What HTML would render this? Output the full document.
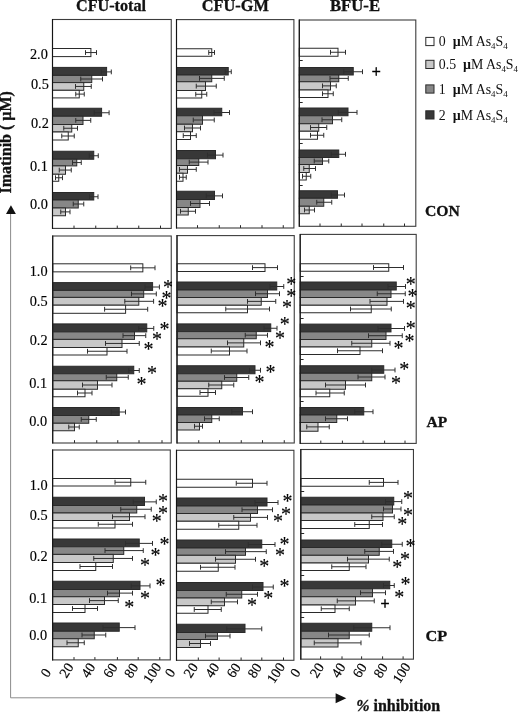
<!DOCTYPE html>
<html lang="en"><head><meta charset="utf-8"><title>Figure</title>
<style>
html,body{margin:0;padding:0;background:#fff;}
body{width:520px;height:712px;overflow:hidden;}
svg{display:block;font-family:"Liberation Serif","Times New Roman",serif;fill:#111;}
.b{font-weight:bold;font-size:16px;stroke:#111;stroke-width:0.3;}
.y{font-size:14.3px;fill:#000;stroke:#000;stroke-width:0.15;}
.x{font-size:14px;fill:#000;stroke:#000;stroke-width:0.2;}
.lg{font-size:13.85px;}
.st{font-size:20px;fill:#000;stroke:#000;stroke-width:0.12;}
.pl{font-size:16px;fill:#000;stroke:#000;stroke-width:0.5;}
.bar{stroke:#2a2a2a;stroke-width:1;}
.e{stroke:#2e2e2e;stroke-width:1;fill:none;}
.p{stroke:#3c3c3c;stroke-width:1.1;fill:none;}
.t{stroke:#262626;stroke-width:1;fill:none;}
.pl2{stroke:#141414;stroke-width:1.1;fill:none;}
.g{stroke:#8c8c8c;stroke-width:1;fill:none;}
</style></head><body>
<svg width="520" height="712" viewBox="0 0 520 712">
<rect x="0" y="0" width="520" height="712" fill="#fff"/>
<path class="g" d="M10.6 213 V697.8 H338"/>
<path d="M6 214 L15.9 214 L10.95 205.3 Z" fill="#111"/>
<path d="M335.6 693.3 L335.6 703.3 L346.3 698.3 Z" fill="#111"/>
<g id="r1c1">
<rect class="bar" x="52.5" y="48.5" width="38.4" height="8.1" fill="#ffffff"/>
<rect class="bar" x="52.5" y="67.4" width="54.1" height="8" fill="#383838"/>
<rect class="bar" x="52.5" y="75.4" width="39.25" height="7.2" fill="#878787"/>
<rect class="bar" x="52.5" y="82.6" width="31.25" height="7.7" fill="#c8c8c8"/>
<rect class="bar" x="52.5" y="90.3" width="26.75" height="7.6" fill="#ffffff"/>
<rect class="bar" x="52.5" y="108.25" width="49.1" height="8" fill="#383838"/>
<rect class="bar" x="52.5" y="116.25" width="30.5" height="8.25" fill="#878787"/>
<rect class="bar" x="52.5" y="124.5" width="19.25" height="7.5" fill="#c8c8c8"/>
<rect class="bar" x="52.5" y="132" width="15.75" height="8" fill="#ffffff"/>
<rect class="bar" x="52.5" y="151.25" width="41.25" height="8" fill="#383838"/>
<rect class="bar" x="52.5" y="159.25" width="24.25" height="6.65" fill="#878787"/>
<rect class="bar" x="52.5" y="165.9" width="13" height="8.35" fill="#c8c8c8"/>
<rect class="bar" x="52.5" y="174.25" width="6.25" height="7" fill="#ffffff"/>
<rect class="bar" x="52.5" y="192.5" width="41.25" height="7.5" fill="#383838"/>
<rect class="bar" x="52.5" y="200" width="25.75" height="8" fill="#878787"/>
<rect class="bar" x="52.5" y="208" width="13" height="7.75" fill="#c8c8c8"/>
<path class="e" d="M85.5 52.55 H96.5 M85.5 50.15 V54.95 M96.5 50.15 V54.95 M101.25 71.9 H111.3 M101.25 69.5 V74.3 M111.3 69.5 V74.3 M80.75 79 H102.5 M80.75 76.6 V81.4 M102.5 76.6 V81.4 M75.5 86.45 H91.25 M75.5 84.05 V88.85 M91.25 84.05 V88.85 M75.75 94.1 H84.25 M75.75 91.7 V96.5 M84.25 91.7 V96.5 M94.2 112.75 H109.1 M94.2 110.35 V115.15 M109.1 110.35 V115.15 M75.75 120.38 H90.75 M75.75 117.97 V122.78 M90.75 117.97 V122.78 M63.75 128.25 H77.5 M63.75 125.85 V130.65 M77.5 125.85 V130.65 M61.75 136 H74.25 M61.75 133.6 V138.4 M74.25 133.6 V138.4 M89.25 155.75 H98.25 M89.25 153.35 V158.15 M98.25 153.35 V158.15 M72.5 162.57 H81.25 M72.5 160.17 V164.97 M81.25 160.17 V164.97 M59.25 170.07 H71.25 M59.25 167.67 V172.47 M71.25 167.67 V172.47 M55.5 177.75 H62.5 M55.5 175.35 V180.15 M62.5 175.35 V180.15 M89.5 196.75 H98 M89.5 194.35 V199.15 M98 194.35 V199.15 M73.25 204 H83.75 M73.25 201.6 V206.4 M83.75 201.6 V206.4 M60.75 211.88 H70 M60.75 209.47 V214.28 M70 209.47 V214.28"/>
<path class="t" d="M74 228.4 V225.6 M95.75 228.4 V225.6 M117.25 228.4 V225.6 M138.75 228.4 V225.6 M160.5 228.4 V225.6"/>
<rect class="p" x="52.5" y="19.5" width="118.75" height="208.9"/>
<path class="pl2" d="M52.5 19 V228.9"/>
</g>
<g id="r1c2">
<rect class="bar" x="176.5" y="48.75" width="35.25" height="7.5" fill="#ffffff"/>
<rect class="bar" x="176.5" y="67.5" width="51.75" height="7.5" fill="#383838"/>
<rect class="bar" x="176.5" y="75" width="35.25" height="6.75" fill="#878787"/>
<rect class="bar" x="176.5" y="81.75" width="29" height="8.75" fill="#c8c8c8"/>
<rect class="bar" x="176.5" y="90.5" width="25.25" height="7.5" fill="#ffffff"/>
<rect class="bar" x="176.5" y="108.25" width="45.25" height="7.5" fill="#383838"/>
<rect class="bar" x="176.5" y="115.75" width="26" height="8.5" fill="#878787"/>
<rect class="bar" x="176.5" y="124.25" width="16" height="7.5" fill="#c8c8c8"/>
<rect class="bar" x="176.5" y="131.75" width="14" height="7.75" fill="#ffffff"/>
<rect class="bar" x="176.5" y="150.5" width="39" height="8.25" fill="#383838"/>
<rect class="bar" x="176.5" y="158.75" width="22.25" height="6.75" fill="#878787"/>
<rect class="bar" x="176.5" y="165.5" width="11" height="7.75" fill="#c8c8c8"/>
<rect class="bar" x="176.5" y="173.25" width="6.5" height="8" fill="#ffffff"/>
<rect class="bar" x="176.5" y="191.25" width="38" height="8.25" fill="#383838"/>
<rect class="bar" x="176.5" y="199.5" width="23.5" height="8" fill="#878787"/>
<rect class="bar" x="176.5" y="207.5" width="11.75" height="7.5" fill="#c8c8c8"/>
<path class="e" d="M208.75 52.5 H214.5 M208.75 50.1 V54.9 M214.5 50.1 V54.9 M225.25 71.75 H231.25 M225.25 69.35 V74.15 M231.25 69.35 V74.15 M199.5 78.38 H224.25 M199.5 75.97 V80.78 M224.25 75.97 V80.78 M196.25 86.12 H216.25 M196.25 83.72 V88.53 M216.25 83.72 V88.53 M195.75 94.25 H206.75 M195.75 91.85 V96.65 M206.75 91.85 V96.65 M214 112.5 H229.5 M214 110.1 V114.9 M229.5 110.1 V114.9 M193.25 120 H214.25 M193.25 117.6 V122.4 M214.25 117.6 V122.4 M184.5 128 H200.5 M184.5 125.6 V130.4 M200.5 125.6 V130.4 M183.25 135.62 H196.25 M183.25 133.22 V138.03 M196.25 133.22 V138.03 M207.5 155.12 H223 M207.5 152.72 V157.53 M223 152.72 V157.53 M189.25 162.12 H208 M189.25 159.72 V164.53 M208 159.72 V164.53 M179.5 169.38 H196.25 M179.5 166.97 V171.78 M196.25 166.97 V171.78 M179.5 177.25 H186.25 M179.5 174.85 V179.65 M186.25 174.85 V179.65 M206.25 195.88 H222.5 M206.25 193.47 V198.28 M222.5 193.47 V198.28 M190.5 203.5 H209.5 M190.5 201.1 V205.9 M209.5 201.1 V205.9 M180.5 211.25 H195.5 M180.5 208.85 V213.65 M195.5 208.85 V213.65"/>
<path class="t" d="M197.5 228 V225.2 M219.25 228 V225.2 M240.5 228 V225.2 M262 228 V225.2 M283.25 228 V225.2"/>
<rect class="p" x="176.5" y="19.6" width="117.4" height="208.4"/>
<path class="pl2" d="M176.5 19.1 V228.5"/>
</g>
<g id="r1c3">
<rect class="bar" x="299.3" y="48.25" width="38.7" height="8" fill="#ffffff"/>
<rect class="bar" x="299.3" y="67.5" width="53.95" height="7.5" fill="#383838"/>
<rect class="bar" x="299.3" y="75" width="39.45" height="6.75" fill="#878787"/>
<rect class="bar" x="299.3" y="81.75" width="31.2" height="8.25" fill="#c8c8c8"/>
<rect class="bar" x="299.3" y="90" width="28.7" height="7.5" fill="#ffffff"/>
<rect class="bar" x="299.3" y="108" width="48.7" height="7.75" fill="#383838"/>
<rect class="bar" x="299.3" y="115.75" width="33.2" height="8" fill="#878787"/>
<rect class="bar" x="299.3" y="123.75" width="19.45" height="7.5" fill="#c8c8c8"/>
<rect class="bar" x="299.3" y="131.25" width="18.2" height="8" fill="#ffffff"/>
<rect class="bar" x="299.3" y="150" width="39.45" height="7.5" fill="#383838"/>
<rect class="bar" x="299.3" y="157.5" width="23.2" height="7" fill="#878787"/>
<rect class="bar" x="299.3" y="164.5" width="9.95" height="8" fill="#c8c8c8"/>
<rect class="bar" x="299.3" y="172.5" width="6.95" height="7.5" fill="#ffffff"/>
<rect class="bar" x="299.3" y="190.75" width="38.2" height="7.5" fill="#383838"/>
<rect class="bar" x="299.3" y="198.25" width="24.45" height="8" fill="#878787"/>
<rect class="bar" x="299.3" y="206.25" width="9.95" height="7.5" fill="#c8c8c8"/>
<path class="e" d="M330.5 52.25 H345.5 M330.5 49.85 V54.65 M345.5 49.85 V54.65 M343.75 71.75 H362.5 M343.75 69.35 V74.15 M362.5 69.35 V74.15 M330 78.38 H348.25 M330 75.97 V80.78 M348.25 75.97 V80.78 M322.5 85.88 H336.25 M322.5 83.47 V88.28 M336.25 83.47 V88.28 M322.5 93.75 H333.25 M322.5 91.35 V96.15 M333.25 91.35 V96.15 M338.25 112.38 H357 M338.25 109.97 V114.78 M357 109.97 V114.78 M322 119.75 H341.75 M322 117.35 V122.15 M341.75 117.35 V122.15 M310.5 127.5 H326.75 M310.5 125.1 V129.9 M326.75 125.1 V129.9 M310.5 135.25 H323.75 M310.5 132.85 V137.65 M323.75 132.85 V137.65 M331.25 154.25 H345.5 M331.25 151.85 V156.65 M345.5 151.85 V156.65 M314.25 161 H328.75 M314.25 158.6 V163.4 M328.75 158.6 V163.4 M303.75 168.5 H315.5 M303.75 166.1 V170.9 M315.5 166.1 V170.9 M302.5 176.25 H310.75 M302.5 173.85 V178.65 M310.75 173.85 V178.65 M331.25 195 H344.5 M331.25 192.6 V197.4 M344.5 192.6 V197.4 M316.75 202.25 H331.75 M316.75 199.85 V204.65 M331.75 199.85 V204.65 M304.5 210 H314.5 M304.5 207.6 V212.4 M314.5 207.6 V212.4"/>
<path class="t" d="M320 226.3 V223.5 M341.25 226.3 V223.5 M362 226.3 V223.5 M383.75 226.3 V223.5 M404.5 226.3 V223.5 M299.3 60.5 H302.7 M299.3 102.5 H302.7 M299.3 143.5 H302.7 M299.3 185.5 H302.7"/>
<rect class="p" x="299.3" y="20" width="116.5" height="206.3"/>
<path class="pl2" d="M299.3 19.5 V226.8"/>
<text class="pl" text-anchor="middle" x="376.25" y="76.7">+</text>
</g>
<g id="r2c1">
<rect class="bar" x="52.7" y="263.8" width="90.15" height="8.05" fill="#ffffff"/>
<rect class="bar" x="52.7" y="282.6" width="99.9" height="7.8" fill="#383838"/>
<rect class="bar" x="52.7" y="290.4" width="91" height="7" fill="#878787"/>
<rect class="bar" x="52.7" y="297.4" width="86.1" height="7.8" fill="#c8c8c8"/>
<rect class="bar" x="52.7" y="305.2" width="72.9" height="8.1" fill="#ffffff"/>
<rect class="bar" x="52.7" y="323.9" width="94.05" height="8" fill="#383838"/>
<rect class="bar" x="52.7" y="331.9" width="81.8" height="7.5" fill="#878787"/>
<rect class="bar" x="52.7" y="339.4" width="69.3" height="8.1" fill="#c8c8c8"/>
<rect class="bar" x="52.7" y="347.5" width="54.3" height="7.5" fill="#ffffff"/>
<rect class="bar" x="52.7" y="366.25" width="81.05" height="7.5" fill="#383838"/>
<rect class="bar" x="52.7" y="373.75" width="64.05" height="7" fill="#878787"/>
<rect class="bar" x="52.7" y="380.75" width="44.8" height="8.5" fill="#c8c8c8"/>
<rect class="bar" x="52.7" y="389.25" width="32.3" height="7.5" fill="#ffffff"/>
<rect class="bar" x="52.7" y="407.5" width="66.55" height="8" fill="#383838"/>
<rect class="bar" x="52.7" y="415.5" width="36.05" height="7.75" fill="#878787"/>
<rect class="bar" x="52.7" y="423.25" width="21.8" height="7.5" fill="#c8c8c8"/>
<path class="e" d="M130.7 267.83 H155 M130.7 265.43 V270.23 M155 265.43 V270.23 M145 287 H159.4 M145 284.6 V289.4 M159.4 284.6 V289.4 M131.5 293.9 H156.3 M131.5 291.5 V296.3 M156.3 291.5 V296.3 M124.8 301.3 H153.6 M124.8 298.9 V303.7 M153.6 298.9 V303.7 M104.6 309.25 H147.7 M104.6 306.85 V311.65 M147.7 306.85 V311.65 M138.75 328.4 H153.75 M138.75 326 V330.8 M153.75 326 V330.8 M123 335.65 H145.75 M123 333.25 V338.05 M145.75 333.25 V338.05 M105.5 343.45 H139.25 M105.5 341.05 V345.85 M139.25 341.05 V345.85 M87.5 351.25 H127 M87.5 348.85 V353.65 M127 348.85 V353.65 M128.75 370.5 H139.25 M128.75 368.1 V372.9 M139.25 368.1 V372.9 M106.25 377.25 H128.25 M106.25 374.85 V379.65 M128.25 374.85 V379.65 M82.5 385 H112 M82.5 382.6 V387.4 M112 382.6 V387.4 M77.5 393 H92 M77.5 390.6 V395.4 M92 390.6 V395.4 M111.25 412 H125.5 M111.25 409.6 V414.4 M125.5 409.6 V414.4 M81.25 419.38 H96.25 M81.25 416.98 V421.77 M96.25 416.98 V421.77 M68.75 427 H79.25 M68.75 424.6 V429.4 M79.25 424.6 V429.4"/>
<path class="t" d="M74.5 443 V440.2 M96.75 443 V440.2 M117.75 443 V440.2 M139 443 V440.2 M162 443 V440.2"/>
<rect class="p" x="52.7" y="236" width="118.55" height="207"/>
<path class="pl2" d="M52.7 235.5 V443.5"/>
<text class="st" text-anchor="middle" x="167.9" y="293.9">*</text>
<text class="st" text-anchor="middle" x="166.5" y="304.7">*</text>
<text class="st" text-anchor="middle" x="162.5" y="312.8">*</text>
<text class="st" text-anchor="middle" x="164.5" y="336.4">*</text>
<text class="st" text-anchor="middle" x="157" y="345.9">*</text>
<text class="st" text-anchor="middle" x="148.4" y="355.6">*</text>
<text class="st" text-anchor="middle" x="152.1" y="379.6">*</text>
<text class="st" text-anchor="middle" x="141.4" y="390.5">*</text>
</g>
<g id="r2c2">
<rect class="bar" x="177" y="263.75" width="88" height="7.75" fill="#ffffff"/>
<rect class="bar" x="177" y="282" width="99.75" height="8" fill="#383838"/>
<rect class="bar" x="177" y="290" width="90.5" height="7.5" fill="#878787"/>
<rect class="bar" x="177" y="297.5" width="84.25" height="7.75" fill="#c8c8c8"/>
<rect class="bar" x="177" y="305.25" width="70.5" height="7.5" fill="#ffffff"/>
<rect class="bar" x="177" y="323.9" width="93.75" height="7.7" fill="#383838"/>
<rect class="bar" x="177" y="331.6" width="79.25" height="7.15" fill="#878787"/>
<rect class="bar" x="177" y="338.75" width="66.75" height="8.25" fill="#c8c8c8"/>
<rect class="bar" x="177" y="347" width="52.5" height="8" fill="#ffffff"/>
<rect class="bar" x="177" y="365.75" width="78" height="8" fill="#383838"/>
<rect class="bar" x="177" y="373.75" width="59.75" height="7.5" fill="#878787"/>
<rect class="bar" x="177" y="381.25" width="44.75" height="7.5" fill="#c8c8c8"/>
<rect class="bar" x="177" y="388.75" width="31" height="7.5" fill="#ffffff"/>
<rect class="bar" x="177" y="407.5" width="65.5" height="7.5" fill="#383838"/>
<rect class="bar" x="177" y="415" width="34.75" height="7.5" fill="#878787"/>
<rect class="bar" x="177" y="422.5" width="22.5" height="7.5" fill="#c8c8c8"/>
<path class="e" d="M252.5 267.62 H277.5 M252.5 265.23 V270.02 M277.5 265.23 V270.02 M270 286.5 H283.75 M270 284.1 V288.9 M283.75 284.1 V288.9 M255.5 293.75 H279.5 M255.5 291.35 V296.15 M279.5 291.35 V296.15 M247.5 301.38 H275.75 M247.5 298.98 V303.77 M275.75 298.98 V303.77 M225.75 309 H269.5 M225.75 306.6 V311.4 M269.5 306.6 V311.4 M264 328.25 H277 M264 325.85 V330.65 M277 325.85 V330.65 M245.25 335.18 H267.5 M245.25 332.78 V337.57 M267.5 332.78 V337.57 M227.5 342.88 H260.5 M227.5 340.48 V345.27 M260.5 340.48 V345.27 M211.25 351 H247 M211.25 348.6 V353.4 M247 348.6 V353.4 M249.5 370.25 H260.5 M249.5 367.85 V372.65 M260.5 367.85 V372.65 M224.5 377.5 H248.75 M224.5 375.1 V379.9 M248.75 375.1 V379.9 M208.75 385 H233.75 M208.75 382.6 V387.4 M233.75 382.6 V387.4 M200 392.5 H215.5 M200 390.1 V394.9 M215.5 390.1 V394.9 M231.75 411.75 H252.5 M231.75 409.35 V414.15 M252.5 409.35 V414.15 M204.5 418.75 H219.25 M204.5 416.35 V421.15 M219.25 416.35 V421.15 M194.5 426.25 H202.5 M194.5 423.85 V428.65 M202.5 423.85 V428.65"/>
<path class="t" d="M198.75 443 V440.2 M219.5 443 V440.2 M241.25 443 V440.2 M262.5 443 V440.2 M284.25 443 V440.2"/>
<rect class="p" x="177" y="235.6" width="117.25" height="207.4"/>
<path class="pl2" d="M177 235.1 V443.5"/>
<text class="st" text-anchor="middle" x="291.25" y="290.55">*</text>
<text class="st" text-anchor="middle" x="291.25" y="303.05">*</text>
<text class="st" text-anchor="middle" x="287" y="314.3">*</text>
<text class="st" text-anchor="middle" x="284.75" y="331.05">*</text>
<text class="st" text-anchor="middle" x="280" y="344.55">*</text>
<text class="st" text-anchor="middle" x="269.5" y="354.05">*</text>
<text class="st" text-anchor="middle" x="270.5" y="378.55">*</text>
<text class="st" text-anchor="middle" x="259.5" y="389.3">*</text>
</g>
<g id="r2c3">
<rect class="bar" x="300.2" y="263.75" width="88.55" height="7.5" fill="#ffffff"/>
<rect class="bar" x="300.2" y="282" width="96.05" height="8" fill="#383838"/>
<rect class="bar" x="300.2" y="290" width="90.8" height="7.5" fill="#878787"/>
<rect class="bar" x="300.2" y="297.5" width="86.8" height="7.75" fill="#c8c8c8"/>
<rect class="bar" x="300.2" y="305.25" width="71.05" height="7.5" fill="#ffffff"/>
<rect class="bar" x="300.2" y="324.1" width="90.8" height="7.8" fill="#383838"/>
<rect class="bar" x="300.2" y="331.9" width="85.8" height="7.6" fill="#878787"/>
<rect class="bar" x="300.2" y="339.5" width="71.55" height="7.5" fill="#c8c8c8"/>
<rect class="bar" x="300.2" y="347" width="59.8" height="7.5" fill="#ffffff"/>
<rect class="bar" x="300.2" y="365.75" width="83.55" height="7.5" fill="#383838"/>
<rect class="bar" x="300.2" y="373.25" width="71.55" height="7.5" fill="#878787"/>
<rect class="bar" x="300.2" y="380.75" width="45.3" height="8.5" fill="#c8c8c8"/>
<rect class="bar" x="300.2" y="389.25" width="29.55" height="7.5" fill="#ffffff"/>
<rect class="bar" x="300.2" y="407.5" width="63.55" height="7.5" fill="#383838"/>
<rect class="bar" x="300.2" y="415" width="36.55" height="7.5" fill="#878787"/>
<rect class="bar" x="300.2" y="422.5" width="17.8" height="8.75" fill="#c8c8c8"/>
<path class="e" d="M373.5 267.5 H403.5 M373.5 265.1 V269.9 M403.5 265.1 V269.9 M388 286.5 H405.5 M388 284.1 V288.9 M405.5 284.1 V288.9 M377.25 293.75 H405.25 M377.25 291.35 V296.15 M405.25 291.35 V296.15 M370 301.38 H403.5 M370 298.98 V303.77 M403.5 298.98 V303.77 M350.5 309 H391.25 M350.5 306.6 V311.4 M391.25 306.6 V311.4 M378 328.5 H404.5 M378 326.1 V330.9 M404.5 326.1 V330.9 M368.5 335.7 H402.25 M368.5 333.3 V338.1 M402.25 333.3 V338.1 M351.75 343.25 H390 M351.75 340.85 V345.65 M390 340.85 V345.65 M337.5 350.75 H382.5 M337.5 348.35 V353.15 M382.5 348.35 V353.15 M371.75 370 H395 M371.75 367.6 V372.4 M395 367.6 V372.4 M358 377 H385 M358 374.6 V379.4 M385 374.6 V379.4 M325.5 385 H365.5 M325.5 382.6 V387.4 M365.5 382.6 V387.4 M316 393 H344.25 M316 390.6 V395.4 M344.25 390.6 V395.4 M354.75 411.75 H373 M354.75 409.35 V414.15 M373 409.35 V414.15 M325.5 418.75 H347.5 M325.5 416.35 V421.15 M347.5 416.35 V421.15 M306.75 426.88 H329.25 M306.75 424.48 V429.27 M329.25 424.48 V429.27"/>
<path class="t" d="M320.8 443.4 V440.6 M342.4 443.4 V440.6 M363.1 443.4 V440.6 M384.6 443.4 V440.6 M405 443.4 V440.6 M300.2 276.5 H303.6 M300.2 318.5 H303.6 M300.2 359.5 H303.6 M300.2 401.5 H303.6"/>
<rect class="p" x="300.2" y="234.4" width="116" height="209"/>
<path class="pl2" d="M300.2 233.9 V443.9"/>
<text class="st" text-anchor="middle" x="410.8" y="290.75">*</text>
<text class="st" text-anchor="middle" x="412.6" y="303.25">*</text>
<text class="st" text-anchor="middle" x="410.7" y="315.25">*</text>
<text class="st" text-anchor="middle" x="410.75" y="335.2">*</text>
<text class="st" text-anchor="middle" x="409.5" y="347.9">*</text>
<text class="st" text-anchor="middle" x="398.5" y="355.25">*</text>
<text class="st" text-anchor="middle" x="404.25" y="376.05">*</text>
<text class="st" text-anchor="middle" x="396" y="390.3">*</text>
</g>
<g id="r3c1">
<rect class="bar" x="52.6" y="478.5" width="78.15" height="7.5" fill="#ffffff"/>
<rect class="bar" x="52.6" y="497.25" width="91.9" height="8.25" fill="#383838"/>
<rect class="bar" x="52.6" y="505.5" width="84.15" height="7.5" fill="#878787"/>
<rect class="bar" x="52.6" y="513" width="76.9" height="7.5" fill="#c8c8c8"/>
<rect class="bar" x="52.6" y="520.5" width="62.4" height="7.5" fill="#ffffff"/>
<rect class="bar" x="52.6" y="539" width="86.65" height="7.75" fill="#383838"/>
<rect class="bar" x="52.6" y="546.75" width="71.15" height="7.65" fill="#878787"/>
<rect class="bar" x="52.6" y="554.4" width="60.65" height="8.1" fill="#c8c8c8"/>
<rect class="bar" x="52.6" y="562.5" width="43.15" height="8" fill="#ffffff"/>
<rect class="bar" x="52.6" y="581.25" width="87.4" height="8.25" fill="#383838"/>
<rect class="bar" x="52.6" y="589.5" width="66.9" height="7.25" fill="#878787"/>
<rect class="bar" x="52.6" y="596.75" width="51.9" height="7.75" fill="#c8c8c8"/>
<rect class="bar" x="52.6" y="604.5" width="32.4" height="8" fill="#ffffff"/>
<rect class="bar" x="52.6" y="623" width="66.65" height="8.25" fill="#383838"/>
<rect class="bar" x="52.6" y="631.25" width="41.65" height="7.5" fill="#878787"/>
<rect class="bar" x="52.6" y="638.75" width="25.65" height="8" fill="#c8c8c8"/>
<path class="e" d="M115 482.25 H145.75 M115 479.85 V484.65 M145.75 479.85 V484.65 M133.25 501.88 H156.25 M133.25 499.48 V504.27 M156.25 499.48 V504.27 M120.75 509.25 H151.25 M120.75 506.85 V511.65 M151.25 506.85 V511.65 M112.5 516.75 H145 M112.5 514.35 V519.15 M145 514.35 V519.15 M98.25 524.25 H132.5 M98.25 521.85 V526.65 M132.5 521.85 V526.65 M125.5 543.38 H152.5 M125.5 540.98 V545.77 M152.5 540.98 V545.77 M105 550.58 H143.25 M105 548.18 V552.98 M143.25 548.18 V552.98 M93.75 558.45 H132.5 M93.75 556.05 V560.85 M132.5 556.05 V560.85 M80 566.5 H112.5 M80 564.1 V568.9 M112.5 564.1 V568.9 M131.25 585.88 H150 M131.25 583.48 V588.27 M150 583.48 V588.27 M107.5 593.12 H132.5 M107.5 590.73 V595.52 M132.5 590.73 V595.52 M89.5 600.62 H118.25 M89.5 598.23 V603.02 M118.25 598.23 V603.02 M72.5 608.5 H97.5 M72.5 606.1 V610.9 M97.5 606.1 V610.9 M103 627.62 H135 M103 625.23 V630.02 M135 625.23 V630.02 M82 635 H105.75 M82 632.6 V637.4 M105.75 632.6 V637.4 M67 642.75 H84.25 M67 640.35 V645.15 M84.25 640.35 V645.15"/>
<path class="t" d="M74 659.9 V657.1 M94.9 659.9 V657.1 M117.4 659.9 V657.1 M138.2 659.9 V657.1 M159.8 659.9 V657.1"/>
<rect class="p" x="52.6" y="450" width="117.7" height="209.9"/>
<path class="pl2" d="M52.6 449.5 V660.4"/>
<text class="st" text-anchor="middle" x="163" y="507.8">*</text>
<text class="st" text-anchor="middle" x="163" y="519.55">*</text>
<text class="st" text-anchor="middle" x="156.75" y="528.3">*</text>
<text class="st" text-anchor="middle" x="164.5" y="551.05">*</text>
<text class="st" text-anchor="middle" x="155.5" y="561.9">*</text>
<text class="st" text-anchor="middle" x="145" y="571.55">*</text>
<text class="st" text-anchor="middle" x="160.5" y="592.3">*</text>
<text class="st" text-anchor="middle" x="145" y="604.8">*</text>
<text class="st" text-anchor="middle" x="129.25" y="613.55">*</text>
</g>
<g id="r3c2">
<rect class="bar" x="176.5" y="479.25" width="76" height="8" fill="#ffffff"/>
<rect class="bar" x="176.5" y="498" width="90.5" height="8" fill="#383838"/>
<rect class="bar" x="176.5" y="506" width="81" height="7.5" fill="#878787"/>
<rect class="bar" x="176.5" y="513.5" width="74" height="7.75" fill="#c8c8c8"/>
<rect class="bar" x="176.5" y="521.25" width="62.25" height="8" fill="#ffffff"/>
<rect class="bar" x="176.5" y="540" width="85.25" height="8" fill="#383838"/>
<rect class="bar" x="176.5" y="548" width="69" height="7.3" fill="#878787"/>
<rect class="bar" x="176.5" y="555.3" width="59" height="7.95" fill="#c8c8c8"/>
<rect class="bar" x="176.5" y="563.25" width="41.75" height="8" fill="#ffffff"/>
<rect class="bar" x="176.5" y="582.5" width="86.5" height="8" fill="#383838"/>
<rect class="bar" x="176.5" y="590.5" width="65.25" height="7.5" fill="#878787"/>
<rect class="bar" x="176.5" y="598" width="48" height="7.75" fill="#c8c8c8"/>
<rect class="bar" x="176.5" y="605.75" width="31.5" height="7.5" fill="#ffffff"/>
<rect class="bar" x="176.5" y="624.25" width="68.5" height="8.25" fill="#383838"/>
<rect class="bar" x="176.5" y="632.5" width="41" height="7" fill="#878787"/>
<rect class="bar" x="176.5" y="639.5" width="24" height="8" fill="#c8c8c8"/>
<path class="e" d="M236.25 483.25 H267 M236.25 480.85 V485.65 M267 480.85 V485.65 M255 502.5 H278 M255 500.1 V504.9 M278 500.1 V504.9 M242 509.75 H272.5 M242 507.35 V512.15 M272.5 507.35 V512.15 M233.75 517.38 H267.5 M233.75 514.98 V519.77 M267.5 514.98 V519.77 M218.75 525.25 H257 M218.75 522.85 V527.65 M257 522.85 V527.65 M248.25 544.5 H275 M248.25 542.1 V546.9 M275 542.1 V546.9 M225.5 551.65 H266.25 M225.5 549.25 V554.05 M266.25 549.25 V554.05 M215.5 559.27 H255.5 M215.5 556.88 V561.67 M255.5 556.88 V561.67 M200.5 567.25 H235 M200.5 564.85 V569.65 M235 564.85 V569.65 M252.5 587 H273.25 M252.5 584.6 V589.4 M273.25 584.6 V589.4 M226.25 594.25 H257.5 M226.25 591.85 V596.65 M257.5 591.85 V596.65 M211.25 601.88 H237.5 M211.25 599.48 V604.27 M237.5 599.48 V604.27 M194.25 609.5 H221.25 M194.25 607.1 V611.9 M221.25 607.1 V611.9 M226.75 628.88 H261.75 M226.75 626.48 V631.27 M261.75 626.48 V631.27 M205.5 636 H230 M205.5 633.6 V638.4 M230 633.6 V638.4 M189.5 643.5 H210.5 M189.5 641.1 V645.9 M210.5 641.1 V645.9"/>
<path class="t" d="M198.3 660.3 V657.5 M219.1 660.3 V657.5 M241.1 660.3 V657.5 M261.8 660.3 V657.5 M283.5 660.3 V657.5"/>
<rect class="p" x="176.5" y="450.3" width="117.4" height="210"/>
<path class="pl2" d="M176.5 449.8 V660.8"/>
<text class="st" text-anchor="middle" x="287.5" y="507.8">*</text>
<text class="st" text-anchor="middle" x="285.9" y="520.8">*</text>
<text class="st" text-anchor="middle" x="278" y="528.3">*</text>
<text class="st" text-anchor="middle" x="284.5" y="550.9">*</text>
<text class="st" text-anchor="middle" x="280" y="561.9">*</text>
<text class="st" text-anchor="middle" x="264.25" y="572.8">*</text>
<text class="st" text-anchor="middle" x="284.5" y="593.05">*</text>
<text class="st" text-anchor="middle" x="268.25" y="604.8">*</text>
<text class="st" text-anchor="middle" x="252" y="612.3">*</text>
</g>
<g id="r3c3">
<rect class="bar" x="300.8" y="478.5" width="82.7" height="7.75" fill="#ffffff"/>
<rect class="bar" x="300.8" y="497.25" width="92.95" height="7.75" fill="#383838"/>
<rect class="bar" x="300.8" y="505" width="91.7" height="8" fill="#878787"/>
<rect class="bar" x="300.8" y="513" width="82.2" height="7.5" fill="#c8c8c8"/>
<rect class="bar" x="300.8" y="520.5" width="68.45" height="8" fill="#ffffff"/>
<rect class="bar" x="300.8" y="540" width="90.95" height="7.5" fill="#383838"/>
<rect class="bar" x="300.8" y="547.5" width="78.45" height="7.8" fill="#878787"/>
<rect class="bar" x="300.8" y="555.3" width="67.7" height="7.7" fill="#c8c8c8"/>
<rect class="bar" x="300.8" y="563" width="48.45" height="7.5" fill="#ffffff"/>
<rect class="bar" x="300.8" y="581.25" width="88.95" height="7.5" fill="#383838"/>
<rect class="bar" x="300.8" y="588.75" width="71.7" height="8" fill="#878787"/>
<rect class="bar" x="300.8" y="596.75" width="54.7" height="8.25" fill="#c8c8c8"/>
<rect class="bar" x="300.8" y="605" width="34.2" height="7.5" fill="#ffffff"/>
<rect class="bar" x="300.8" y="623.25" width="70.95" height="8" fill="#383838"/>
<rect class="bar" x="300.8" y="631.25" width="48.45" height="7.5" fill="#878787"/>
<rect class="bar" x="300.8" y="638.75" width="37.2" height="8.25" fill="#c8c8c8"/>
<path class="e" d="M369.25 482.38 H398 M369.25 479.98 V484.77 M398 479.98 V484.77 M385.5 501.62 H401.75 M385.5 499.23 V504.02 M401.75 499.23 V504.02 M383.5 509 H401 M383.5 506.6 V511.4 M401 506.6 V511.4 M371.75 516.75 H394.25 M371.75 514.35 V519.15 M394.25 514.35 V519.15 M354.75 524.5 H382.5 M354.75 522.1 V526.9 M382.5 522.1 V526.9 M381.75 544.25 H402.25 M381.75 541.85 V546.65 M402.25 541.85 V546.65 M364.75 551.4 H393.5 M364.75 549 V553.8 M393.5 549 V553.8 M347.5 559.15 H389.25 M347.5 556.75 V561.55 M389.25 556.75 V561.55 M331.75 566.75 H366 M331.75 564.35 V569.15 M366 564.35 V569.15 M383.5 585.5 H394.25 M383.5 583.1 V587.9 M394.25 583.1 V587.9 M360.5 592.75 H385.5 M360.5 590.35 V595.15 M385.5 590.35 V595.15 M337.25 600.88 H374.25 M337.25 598.48 V603.27 M374.25 598.48 V603.27 M321.25 608.75 H349.25 M321.25 606.35 V611.15 M349.25 606.35 V611.15 M353.75 627.75 H390 M353.75 625.35 V630.15 M390 625.35 V630.15 M328.5 635 H369.25 M328.5 632.6 V637.4 M369.25 632.6 V637.4 M314.25 642.88 H361 M314.25 640.48 V645.27 M361 640.48 V645.27"/>
<path class="t" d="M320.6 659.15 V656.35 M342 659.15 V656.35 M361.6 659.15 V656.35 M382.6 659.15 V656.35 M403.1 659.15 V656.35 M300.8 491.5 H304.2 M300.8 533.5 H304.2 M300.8 575.5 H304.2 M300.8 617.5 H304.2"/>
<rect class="p" x="300.8" y="449.5" width="112.65" height="209.65"/>
<path class="pl2" d="M300.8 449 V659.65"/>
<text class="st" text-anchor="middle" x="408" y="505.3">*</text>
<text class="st" text-anchor="middle" x="408" y="522.05">*</text>
<text class="st" text-anchor="middle" x="402.25" y="531.05">*</text>
<text class="st" text-anchor="middle" x="410.5" y="553.2">*</text>
<text class="st" text-anchor="middle" x="404.95" y="566.1">*</text>
<text class="st" text-anchor="middle" x="397.25" y="574.3">*</text>
<text class="st" text-anchor="middle" x="405.5" y="591.05">*</text>
<text class="st" text-anchor="middle" x="399.25" y="603.55">*</text>
<text class="pl" text-anchor="middle" x="385" y="608.7">+</text>
</g>
<text class="b" x="76" y="10.9" textLength="70" lengthAdjust="spacingAndGlyphs">CFU-total</text>
<text class="b" x="201.8" y="10.9" textLength="67" lengthAdjust="spacingAndGlyphs">CFU-GM</text>
<text class="b" x="330" y="10.9" textLength="50" lengthAdjust="spacingAndGlyphs">BFU-E</text>
<text class="b" style="font-size:15.5px" x="425" y="215.8" textLength="34.9" lengthAdjust="spacingAndGlyphs">CON</text>
<text class="b" style="font-size:15.5px" x="426.6" y="427.2">AP</text>
<text class="b" style="font-size:15.5px" x="425.5" y="641.4" textLength="21.7" lengthAdjust="spacingAndGlyphs">CP</text>
<text class="b" transform="translate(11.1 193.6) rotate(-90)">Imatinib ( µM)</text>
<text class="b" x="356.2" y="710.6"><tspan font-style="italic">%</tspan> inhibition</text>
<text class="y" text-anchor="end" x="47.8" y="58.5">2.0</text>
<text class="y" text-anchor="end" x="48.8" y="89.2">0.5</text>
<text class="y" text-anchor="end" x="48.8" y="127.95">0.2</text>
<text class="y" text-anchor="end" x="47.8" y="171.2">0.1</text>
<text class="y" text-anchor="end" x="47.8" y="208.95">0.0</text>
<text class="y" text-anchor="end" x="47.55" y="275.5">1.0</text>
<text class="y" text-anchor="end" x="47.55" y="305.5">0.5</text>
<text class="y" text-anchor="end" x="47.55" y="344.9">0.2</text>
<text class="y" text-anchor="end" x="47.05" y="387.6">0.1</text>
<text class="y" text-anchor="end" x="47.05" y="425.6">0.0</text>
<text class="y" text-anchor="end" x="47.55" y="490.45">1.0</text>
<text class="y" text-anchor="end" x="47.55" y="520.2">0.5</text>
<text class="y" text-anchor="end" x="47.55" y="560.5">0.2</text>
<text class="y" text-anchor="end" x="47.05" y="602.7">0.1</text>
<text class="y" text-anchor="end" x="47.05" y="640.4">0.0</text>
<text class="x" text-anchor="middle" transform="translate(45.75 672.8) rotate(-57)" x="0" y="4.6">0</text>
<text class="x" text-anchor="middle" transform="translate(66.4 670.3) rotate(-57)" x="0" y="4.6">20</text>
<text class="x" text-anchor="middle" transform="translate(88.1 670.3) rotate(-57)" x="0" y="4.6">40</text>
<text class="x" text-anchor="middle" transform="translate(110.3 670.4) rotate(-57)" x="0" y="4.6">60</text>
<text class="x" text-anchor="middle" transform="translate(131.1 670.5) rotate(-57)" x="0" y="4.6">80</text>
<text class="x" text-anchor="middle" transform="translate(152.2 673) rotate(-57)" x="0" y="4.6">100</text>
<text class="x" text-anchor="middle" transform="translate(170 672.8) rotate(-57)" x="0" y="4.6">0</text>
<text class="x" text-anchor="middle" transform="translate(190.8 670.3) rotate(-57)" x="0" y="4.6">20</text>
<text class="x" text-anchor="middle" transform="translate(212.2 670.3) rotate(-57)" x="0" y="4.6">40</text>
<text class="x" text-anchor="middle" transform="translate(233.75 670.4) rotate(-57)" x="0" y="4.6">60</text>
<text class="x" text-anchor="middle" transform="translate(254.6 670.5) rotate(-57)" x="0" y="4.6">80</text>
<text class="x" text-anchor="middle" transform="translate(275.9 673) rotate(-57)" x="0" y="4.6">100</text>
<text class="x" text-anchor="middle" transform="translate(295.25 672.8) rotate(-57)" x="0" y="4.6">0</text>
<text class="x" text-anchor="middle" transform="translate(316.9 670.3) rotate(-57)" x="0" y="4.6">20</text>
<text class="x" text-anchor="middle" transform="translate(338.4 670.3) rotate(-57)" x="0" y="4.6">40</text>
<text class="x" text-anchor="middle" transform="translate(359.6 670.4) rotate(-57)" x="0" y="4.6">60</text>
<text class="x" text-anchor="middle" transform="translate(380.6 670.5) rotate(-57)" x="0" y="4.6">80</text>
<text class="x" text-anchor="middle" transform="translate(401.6 673) rotate(-57)" x="0" y="4.6">100</text>
<rect class="bar" x="425.8" y="37.4" width="8.2" height="8.2" fill="#ffffff"/>
<text class="lg" x="438.8" y="45.8" xml:space="preserve">0  <tspan font-weight="bold">µ</tspan>M As<tspan dy="3" font-size="8.9">4</tspan><tspan dy="-3">S</tspan><tspan dy="3" font-size="8.9">4</tspan></text>
<rect class="bar" x="425.8" y="60.3" width="8.2" height="8.2" fill="#c8c8c8"/>
<text class="lg" x="438.8" y="68.8" xml:space="preserve">0.5  <tspan font-weight="bold">µ</tspan>M As<tspan dy="3" font-size="8.9">4</tspan><tspan dy="-3">S</tspan><tspan dy="3" font-size="8.9">4</tspan></text>
<rect class="bar" x="425.8" y="84.9" width="8.2" height="8.2" fill="#878787"/>
<text class="lg" x="438.8" y="93.7" xml:space="preserve">1  <tspan font-weight="bold">µ</tspan>M As<tspan dy="3" font-size="8.9">4</tspan><tspan dy="-3">S</tspan><tspan dy="3" font-size="8.9">4</tspan></text>
<rect class="bar" x="425.8" y="110.8" width="8.2" height="8.2" fill="#383838"/>
<text class="lg" x="438.8" y="120.2" xml:space="preserve">2  <tspan font-weight="bold">µ</tspan>M As<tspan dy="3" font-size="8.9">4</tspan><tspan dy="-3">S</tspan><tspan dy="3" font-size="8.9">4</tspan></text>
</svg></body></html>
